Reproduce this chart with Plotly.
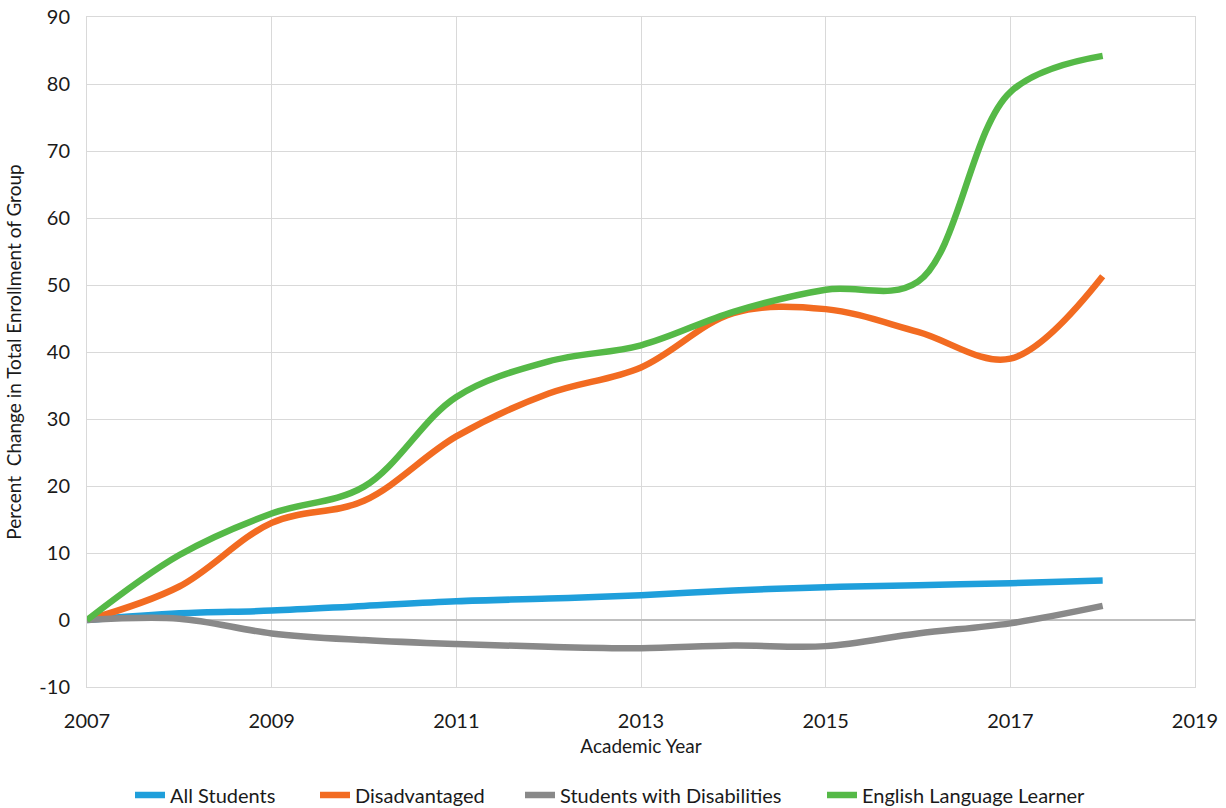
import plotly.graph_objects as go

years = [2007, 2008, 2009, 2010, 2011, 2012, 2013, 2014, 2015, 2016, 2017, 2018]
all_students = [0, 1.0, 1.4, 2.1, 2.8, 3.2, 3.7, 4.4, 4.9, 5.2, 5.5, 5.9]
disadvantaged = [0, 5.0, 14.5, 17.8, 27.4, 33.8, 37.7, 45.8, 46.4, 43.0, 39.0, 51.3]
disabilities = [0, 0.2, -2.0, -3.0, -3.6, -4.0, -4.2, -3.8, -3.9, -2.0, -0.5, 2.1]
ell = [0, 9.7, 15.9, 19.9, 33.3, 38.6, 41.0, 46.0, 49.3, 50.5, 78.8, 84.2]

y_tick_values = [-10, 0, 10, 20, 30, 40, 50, 60, 70, 80, 90]
y_tick_labels = ["-10", "0", "10", "20", "30", "40", "50", "60", "70", "80", "90"]

series = [
    ("All Students", all_students, "#1F9FDB"),
    ("Disadvantaged", disadvantaged, "#F26B21"),
    ("Students with Disabilities", disabilities, "#898989"),
    ("English Language Learner", ell, "#55B947"),
]

FONT = "Lato, Roboto, Arial, sans-serif"

# plot area: x from 87 to 1195 px (width 1108), y from 17 to 687 px (height 670)
legend_left_px = [130, 315, 520, 822]
legend_names = ["legend", "legend2", "legend3", "legend4"]

fig = go.Figure()
for (name, vals, color), lg in zip(series, legend_names):
    fig.add_trace(go.Scatter(
        x=years, y=vals, name=name, mode="lines", legend=lg,
        line=dict(color=color, width=6.5, shape="spline", smoothing=1),
    ))

layout_legends = {}
for lg, px in zip(legend_names, legend_left_px):
    layout_legends[lg] = dict(
        orientation="h", x=(px - 87) / 1108, xanchor="left",
        y=(687 - 795) / 670, yanchor="middle",
        font=dict(size=20), itemwidth=30, bgcolor="rgba(0,0,0,0)",
    )

fig.update_layout(
    width=1226, height=808,
    paper_bgcolor="white", plot_bgcolor="white",
    margin=dict(l=87, r=31, t=17, b=121, autoexpand=False),
    font=dict(family=FONT, size=18, color="#1a1a1a"),
    showlegend=True,
    **layout_legends,
)
fig.update_xaxes(
    range=[2007, 2019], dtick=2, tick0=2007,
    showgrid=True, gridcolor="#D9D9D9", gridwidth=1,
    showline=True, linecolor="#D9D9D9", mirror=True,
    zeroline=False, ticks="", automargin=False,
    ticklabelstandoff=16,
    title=dict(text="Academic Year", font=dict(size=19), standoff=8),
    tickfont=dict(size=20),
)
fig.update_yaxes(
    range=[-10, 90], tickmode="array", tickvals=y_tick_values, ticktext=y_tick_labels,
    showgrid=True, gridcolor="#D9D9D9", gridwidth=1,
    showline=True, linecolor="#D9D9D9", mirror=True,
    zeroline=True, zerolinecolor="#BFBFBF", zerolinewidth=1.5,
    ticks="", automargin=False,
    ticklabelstandoff=12,
    title=dict(text="Percent  Change in Total Enrollment of Group", font=dict(size=19), standoff=12),
    tickfont=dict(size=20),
)

fig.write_html("out.html", config={"displayModeBar": False},
               post_script="document.body.style.margin='0';document.body.style.overflow='hidden';")
